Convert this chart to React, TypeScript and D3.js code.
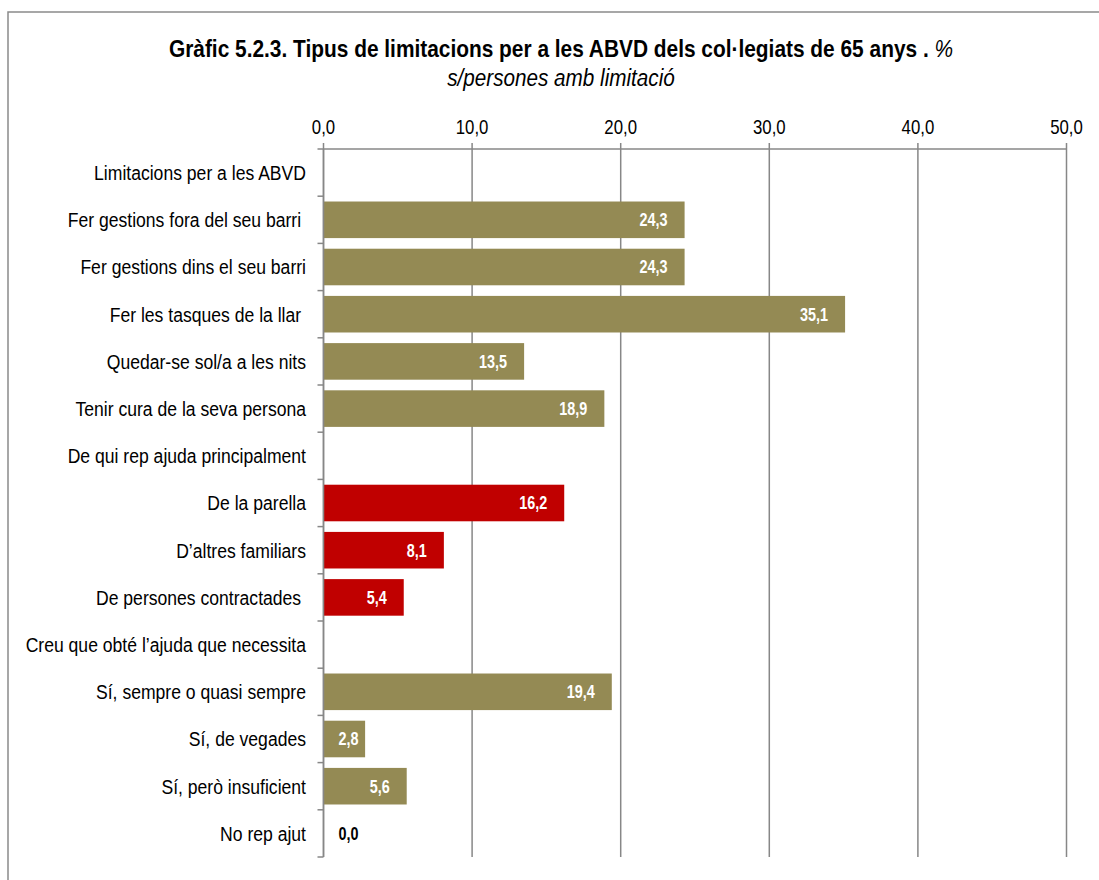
import React from "react";
import * as d3 from "d3";

const categories: string[] = [
  "Limitacions per a les ABVD",
  "Fer gestions fora del seu barri ",
  "Fer gestions dins el seu barri",
  "Fer les tasques de la llar ",
  "Quedar-se sol/a a les nits",
  "Tenir cura de la seva persona",
  "De qui rep ajuda principalment",
  "De la parella",
  "D\u2019altres familiars",
  "De persones contractades ",
  "Creu que obt\u00e9 l\u2019ajuda que necessita",
  "S\u00ed, sempre o quasi sempre",
  "S\u00ed, de vegades",
  "S\u00ed, per\u00f2 insuficient",
  "No rep ajut",
];

const values: (number | null)[] = [
  null, 24.3, 24.3, 35.1, 13.5, 18.9, null, 16.2, 8.1, 5.4, null, 19.4, 2.8, 5.6, 0.0,
];

const groups: string[] = [
  "olive", "olive", "olive", "olive", "olive", "olive", "red", "red", "red", "red",
  "olive", "olive", "olive", "olive", "olive",
];

const xTicks: number[] = [0, 10, 20, 30, 40, 50];

const colorMap: Record<string, string> = { olive: "#948A54", red: "#C00000" };

const FONT = "'Liberation Sans', Arial, sans-serif";
const fmt = (v: number) => v.toFixed(1).replace(".", ",");

type NTextProps = {
  x: number;
  y: number;
  sx: number;
  anchor: "start" | "middle" | "end";
  size: number;
  weight?: string;
  italic?: boolean;
  fill?: string;
  dy?: string;
  children: React.ReactNode;
};

function NText({ x, y, sx, anchor, size, weight, italic, fill, dy, children }: NTextProps) {
  return (
    <text
      transform={`translate(${x},${y}) scale(${sx},1)`}
      textAnchor={anchor}
      fontSize={size}
      fontWeight={weight || "normal"}
      fontStyle={italic ? "italic" : "normal"}
      fill={fill || "#000"}
      dy={dy}
      style={{ whiteSpace: "pre" }}
    >
      {children}
    </text>
  );
}

export default function App() {
  const W = 1099;
  const H = 880;
  const x = d3.scaleLinear().domain([0, 50]).range([323.5, 1066.5]);
  const y = d3
    .scaleBand<string>()
    .domain(categories.map((c, i) => String(i)))
    .range([149, 857])
    .paddingInner(0.225)
    .paddingOuter(0.1125);
  const step = y.step();
  const top = 149;
  const bottom = 857;
  const grid = "#878787";

  return (
    <svg
      width={W}
      height={H}
      style={{ position: "absolute", left: 0, top: 0, background: "#fff" }}
      fontFamily={FONT}
    >
      <rect x={8} y={12} width={1200} height={1000} fill="#fff" stroke="#8a8a8a" strokeWidth={1.5} />
      <NText x={561} y={57} sx={0.87} anchor="middle" size={24} weight="bold">
        Gràfic 5.2.3. Tipus de limitacions per a les ABVD dels col·legiats de 65 anys .{" "}
        <tspan fontWeight="normal" fontStyle="italic">%</tspan>
      </NText>
      <NText x={561} y={86} sx={0.88} anchor="middle" size={23.5} italic>
        s/persones amb limitació
      </NText>

      {xTicks.map((t) => (
        <g key={t}>
          <line x1={x(t)} x2={x(t)} y1={top - 6} y2={bottom} stroke={grid} strokeWidth={1.5} />
          <NText x={x(t)} y={134} sx={0.84} anchor="middle" size={20}>
            {fmt(t)}
          </NText>
        </g>
      ))}
      <line x1={x(0)} x2={x(50)} y1={top} y2={top} stroke={grid} strokeWidth={1.5} />

      {d3.range(categories.length + 1).map((i) => (
        <line
          key={"yt" + i}
          x1={x(0) - 6}
          x2={x(0)}
          y1={top + i * step}
          y2={top + i * step}
          stroke={grid}
          strokeWidth={1.5}
        />
      ))}

      {categories.map((c, i) => {
        const yc = (y(String(i)) as number) + y.bandwidth() / 2;
        return (
          <NText key={"cl" + i} x={306} y={yc} dy="0.36em" sx={0.845} anchor="end" size={20.8}>
            {c}
          </NText>
        );
      })}

      {values.map((v, i) => {
        if (v === null) return null;
        const yb = y(String(i)) as number;
        const h = y.bandwidth();
        const w = x(v) - x(0);
        const lx = Math.max(x(v) - 17, x(0) + 35);
        return (
          <g key={"b" + i}>
            {w > 0 && (
              <rect x={x(0)} y={yb} width={w} height={h} fill={colorMap[groups[i]]} />
            )}
            <NText
              x={lx}
              y={yb + h / 2}
              dy="0.36em"
              sx={0.8}
              anchor="end"
              size={18}
              weight="bold"
              fill={v > 0 ? "#fff" : "#000"}
            >
              {fmt(v)}
            </NText>
          </g>
        );
      })}
      <line x1={x(0)} x2={x(0)} y1={top} y2={bottom} stroke={grid} strokeWidth={1.5} />
    </svg>
  );
}
